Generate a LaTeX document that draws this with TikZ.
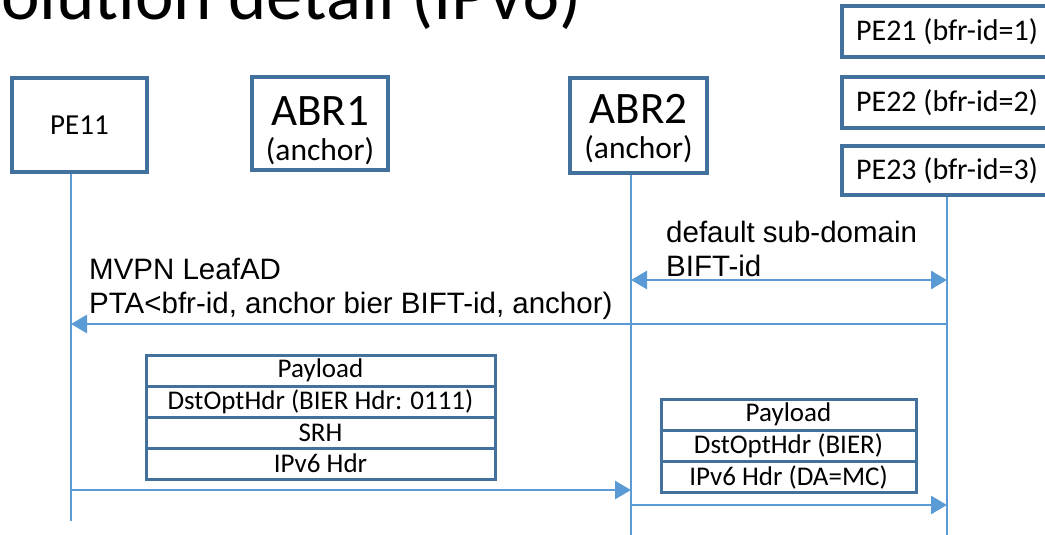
\documentclass[tikz,border=0pt]{standalone}
\usepackage{fontspec}
\setmainfont{Carlito}
\newfontfamily\arialf{Liberation Sans}
\usetikzlibrary{arrows.meta}
\definecolor{boxblue}{RGB}{65,113,156}
\definecolor{lineblue}{RGB}{91,155,213}
\begin{document}
\begin{tikzpicture}[x=1pt,y=-1pt,
  box/.style={draw=boxblue,line width=3.5pt,fill=white,inner sep=0pt,align=center},
  boxtxt/.style={anchor=base,inner sep=0pt},
  pkt/.style={draw=boxblue,line width=3pt,inner sep=0pt,font=\fontsize{27}{30}\selectfont},
  life/.style={draw=lineblue,line width=1.5pt},
  msg/.style={draw=lineblue,line width=2.8pt,-{Triangle[length=16pt,width=18pt]}},
  lbl/.style={font=\arialf\fontsize{29.5}{34.3}\selectfont,anchor=base west,inner sep=0pt}
]
\useasboundingbox (0,0) rectangle (1045,535);
\clip (0,0) rectangle (1045,535);

% title
\node[anchor=base west,inner sep=0pt,font=\fontsize{73}{80}\selectfont] (title) at (1,20) {olution detail (IPv6)};

% participant boxes
\node[box,minimum width=135pt,minimum height=94pt,font=\fontsize{29}{34}\selectfont] (PE11) at (79.5,125) {PE11};
\node[box,minimum width=136pt,minimum height=93pt] (ABR1) at (320,123.5) {};
\node[boxtxt,font=\fontsize{45}{45}\selectfont] (ABR1a) at (320,125) {ABR1};
\node[boxtxt,font=\fontsize{31.5}{31.5}\selectfont] (ABR1b) at (320,160) {(anchor)};
\node[box,minimum width=137pt,minimum height=95pt] (ABR2) at (638.5,125.5) {};
\node[boxtxt,font=\fontsize{45}{45}\selectfont] (ABR2a) at (638.5,123) {ABR2};
\node[boxtxt,font=\fontsize{31.5}{31.5}\selectfont] (ABR2b) at (638.5,158) {(anchor)};
\node[box,minimum width=210pt,minimum height=51pt,font=\fontsize{30}{34}\selectfont] (PE21) at (947,31.5) {PE21 (bfr-id=1)};
\node[box,minimum width=210pt,minimum height=51pt,font=\fontsize{30}{34}\selectfont] (PE22) at (947,102.5) {PE22 (bfr-id=2)};
\node[box,minimum width=210pt,minimum height=49pt,font=\fontsize{30}{34}\selectfont] (PE23) at (947,170.5) {PE23 (bfr-id=3)};

% lifelines
\coordinate (x1) at (71,0);
\coordinate (x2) at (631,0);
\coordinate (e1) at (71,521);
\coordinate (e2) at (631,535);
\coordinate (e3) at (947,535);
\draw[life] (PE11.south -| x1) -- (e1);
\draw[life] (ABR2.south -| x2) -- (e2);
\draw[life] (PE23.south) -- (e3);

% labels
\node[lbl] (lab1) at (666,242) {default sub-domain};
\node[lbl] (lab2) at (666,276) {BIFT-id};
\node[lbl] (lab3) at (89,279) {MVPN LeafAD};
\node[lbl] (lab4) at (89,313) {PTA<bfr-id, anchor bier BIFT-id, anchor)};

% messages
\coordinate (m1a) at (631,280);
\coordinate (m1b) at (947,280);
\coordinate (m2a) at (947,324);
\coordinate (m2b) at (71,324);
\coordinate (m3a) at (71,490);
\coordinate (m3b) at (631,490);
\coordinate (m4a) at (631,505);
\coordinate (m4b) at (947,505);
\draw[msg,{Triangle[length=16pt,width=18pt]}-{Triangle[length=16pt,width=18pt]}] (m1a) -- (m1b);
\draw[msg] (m2a) -- (m2b);
\draw[msg] (m3a) -- (m3b);
\draw[msg] (m4a) -- (m4b);

% packet stacks
\node[pkt,minimum width=349pt,minimum height=31pt] (s1) at (320.5,370.5) {Payload};
\node[pkt,minimum width=349pt,minimum height=31pt] (s2) at (320.5,401.5) {DstOptHdr (BIER Hdr: 0111)};
\node[pkt,minimum width=349pt,minimum height=31pt] (s3) at (320.5,432.5) {SRH};
\node[pkt,minimum width=349pt,minimum height=31pt] (s4) at (320.5,463.5) {IPv6 Hdr};

\node[pkt,minimum width=255pt,minimum height=31.3pt] (r1) at (788.5,414.7) {Payload};
\node[pkt,minimum width=255pt,minimum height=31.3pt] (r2) at (788.5,446) {DstOptHdr (BIER)};
\node[pkt,minimum width=255pt,minimum height=31.3pt] (r3) at (788.5,477.3) {IPv6 Hdr (DA=MC)};
\end{tikzpicture}
\end{document}
